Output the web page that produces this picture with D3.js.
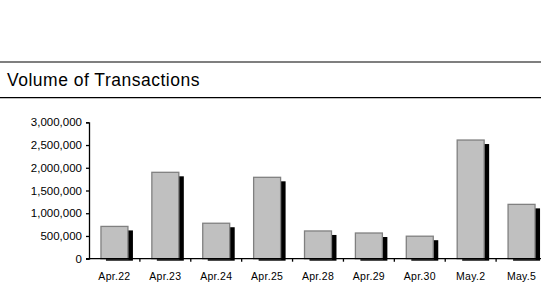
<!DOCTYPE html>
<html>
<head>
<meta charset="utf-8">
<script src="https://cdn.jsdelivr.net/npm/d3@7"></script>
<style>
  body { margin: 0; background: #fff; }
  svg { display: block; font-family: "Liberation Sans", Arial, sans-serif; }
</style>
</head>
<body>
<div id="chart"></div>
<script>
const categories = ["Apr.22", "Apr.23", "Apr.24", "Apr.25", "Apr.28", "Apr.29", "Apr.30", "May.2", "May.5"];
const volumes = [710000, 1900000, 780000, 1790000, 610000, 565000, 495000, 2610000, 1195000];
const yTicks = [0, 500000, 1000000, 1500000, 2000000, 2500000, 3000000];

const width = 541, height = 282;
const plot = { left: 89, right: 547, top: 122.3, bottom: 258.7 };

const svg = d3.select("#chart").append("svg")
  .attr("width", width)
  .attr("height", height);

// title band
svg.append("line").attr("x1", 0).attr("x2", width).attr("y1", 62).attr("y2", 62)
  .attr("stroke", "#000").attr("stroke-width", 1.2);
svg.append("line").attr("x1", 0).attr("x2", width).attr("y1", 97.7).attr("y2", 97.7)
  .attr("stroke", "#000").attr("stroke-width", 1.2);
svg.append("text")
  .attr("x", 7).attr("y", 86)
  .attr("font-size", 17.5)
  .attr("letter-spacing", 0.5)
  .attr("fill", "#000")
  .text("Volume of Transactions");

const x = d3.scaleBand()
  .domain(categories)
  .range([plot.left, plot.right])
  .paddingInner(0.47)
  .paddingOuter(0.235);

const y = d3.scaleLinear()
  .domain([0, 3000000])
  .range([plot.bottom, plot.top]);

// shadows
const shadowDx = 5, shadowDy = 4;
svg.append("g").selectAll("rect")
  .data(volumes)
  .join("rect")
  .attr("x", (d, i) => x(categories[i]) + shadowDx)
  .attr("y", d => y(d) + shadowDy)
  .attr("width", x.bandwidth())
  .attr("height", d => plot.bottom - y(d) - shadowDy + 2)
  .attr("fill", "#000");

// bars
svg.append("g").selectAll("rect")
  .data(volumes)
  .join("rect")
  .attr("x", (d, i) => x(categories[i]))
  .attr("y", d => y(d))
  .attr("width", x.bandwidth())
  .attr("height", d => plot.bottom - y(d))
  .attr("fill", "#c0c0c0")
  .attr("stroke", "#808080")
  .attr("stroke-width", 1.3);

// y axis
const yAxis = svg.append("g")
  .attr("transform", `translate(${plot.left},0)`)
  .call(d3.axisLeft(y).tickValues(yTicks).tickFormat(d3.format(",")).tickSize(3).tickPadding(4));
yAxis.select(".domain").attr("stroke", "#000").attr("stroke-width", 1.3);
yAxis.selectAll(".tick line").attr("stroke", "#000").attr("stroke-width", 1.3);
yAxis.selectAll("text").attr("font-size", 11.5).attr("fill", "#000")
  .attr("font-family", "'Liberation Sans', Arial, sans-serif");

// x axis
const xAxisG = svg.append("g")
  .attr("transform", `translate(0,${plot.bottom})`);
xAxisG.append("line")
  .attr("x1", plot.left - 3).attr("x2", width)
  .attr("stroke", "#000").attr("stroke-width", 1.3);
const step = x.step();
xAxisG.selectAll(".xtick")
  .data(categories.slice(1))
  .join("line")
  .attr("class", "xtick")
  .attr("x1", d => x(d) - x.paddingInner() * step / 2)
  .attr("x2", d => x(d) - x.paddingInner() * step / 2)
  .attr("y1", 0).attr("y2", 3)
  .attr("stroke", "#000").attr("stroke-width", 1.3);
xAxisG.selectAll(".xlabel")
  .data(categories)
  .join("text")
  .attr("class", "xlabel")
  .attr("x", d => x(d) + x.bandwidth() / 2)
  .attr("y", 21.3)
  .attr("text-anchor", "middle")
  .attr("font-size", 10.5)
  .attr("letter-spacing", 0.3)
  .attr("fill", "#000")
  .text(d => d);
</script>
</body>
</html>
